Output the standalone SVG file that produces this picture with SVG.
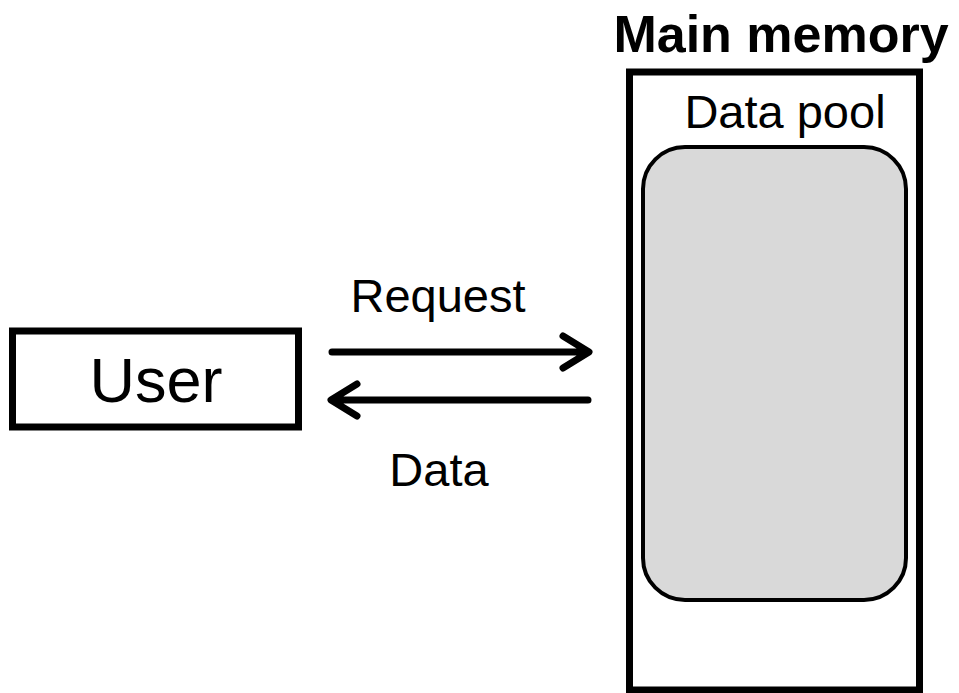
<svg xmlns="http://www.w3.org/2000/svg" width="959" height="693" viewBox="0 0 959 693">
<style>
.t{font-family:"Liberation Sans",Arial,sans-serif;fill:#000;text-anchor:middle}
.box{fill:#fff;stroke:#000;stroke-width:7}
.conn{fill:none;stroke:#000;stroke-width:7;stroke-linecap:round;stroke-linejoin:round}
</style>
<rect width="959" height="693" fill="#fff"/>
<g id="main-memory">
<text class="t" x="781" y="52" font-size="52" font-weight="bold">Main memory</text>
<rect class="box" x="629.5" y="72" width="290" height="618"/>
<text class="t" x="785" y="128" font-size="47">Data pool</text>
</g>
<g id="data-pool">
<rect x="643" y="147" width="263" height="453" rx="42" ry="42" fill="#d9d9d9" stroke="#000" stroke-width="4"/>
</g>
<g id="user">
<rect class="box" x="12.5" y="331" width="286" height="96" stroke-width="6"/>
<text class="t" x="156" y="402" font-size="63">User</text>
</g>
<g id="connectors">
<path class="conn" d="M332 352H586M563 336L589 352L563 368"/>
<path class="conn" d="M588 400H334M357 384L331 400L357 416"/>
<text class="t" x="438" y="312" font-size="47">Request</text>
<text class="t" x="439" y="486" font-size="47">Data</text>
</g>
</svg>
